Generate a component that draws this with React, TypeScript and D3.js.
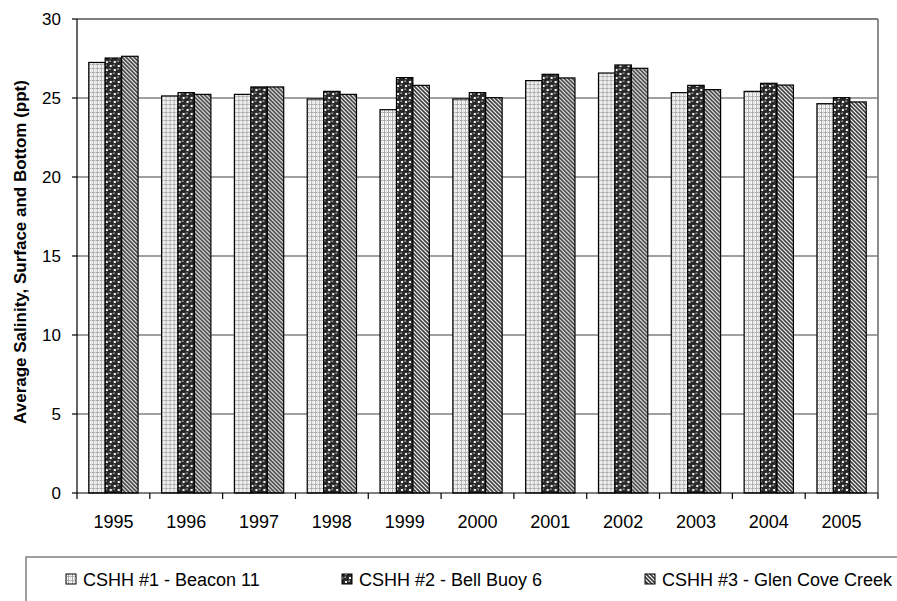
import React from "react";
import * as d3 from "d3";

const years = ["1995", "1996", "1997", "1998", "1999", "2000", "2001", "2002", "2003", "2004", "2005"];
const seriesNames = ["CSHH #1 - Beacon 11", "CSHH #2 - Bell Buoy 6", "CSHH #3 - Glen Cove Creek"];
const beacon11 = [27.25, 25.13, 25.23, 24.94, 24.26, 24.94, 26.1, 26.58, 25.34, 25.42, 24.64];
const bellBuoy6 = [27.53, 25.34, 25.7, 25.42, 26.29, 25.34, 26.5, 27.09, 25.8, 25.93, 25.02];
const glenCoveCreek = [27.64, 25.23, 25.7, 25.23, 25.8, 25.02, 26.27, 26.88, 25.53, 25.82, 24.75];
const yTicks = [0, 5, 10, 15, 20, 25, 30];
const yTitle = "Average Salinity, Surface and Bottom (ppt)";

const W = 897;
const H = 601;
const left = 77;
const right = 878;
const top = 19;
const bottom = 493;
const FONT = 'Arial, "Liberation Sans", sans-serif';

const ballCenters: [number, number][] = [];
[[2, 2], [6, 6]].forEach(([cx, cy]) => {
  [-8, 0, 8].forEach((dx) => [-8, 0, 8].forEach((dy) => ballCenters.push([cx + dx, cy + dy])));
});

export default function App() {
  const seriesValues = [beacon11, bellBuoy6, glenCoveCreek];
  const patternIds = ["pGrid", "pBalls", "pDiag"];

  const x0 = d3.scaleBand<string>().domain(years).range([left, right]).paddingInner(0.323).paddingOuter(0.1615);
  const x1 = d3.scaleBand<number>().domain([0, 1, 2]).range([0, x0.bandwidth()]).padding(0);
  const y = d3.scaleLinear().domain([0, 30]).range([bottom, top]);
  const step = x0.step();

  const legendX = [66, 342, 645];
  const legendY = 580;

  return (
    <svg width={W} height={H} style={{ position: "absolute", left: 0, top: 0, background: "#fff" }} fontFamily={FONT}>
      <defs>
        <pattern id="pGrid" width={4} height={4} patternUnits="userSpaceOnUse">
          <rect width={4} height={4} fill="#ffffff" />
          <rect x={0} y={0} width={1} height={4} fill="#a8a8a8" />
          <rect x={0} y={0} width={4} height={1} fill="#a8a8a8" />
          <rect x={2} y={0} width={1} height={4} fill="#dcdcdc" />
        </pattern>
        <pattern id="pBalls" width={8} height={8} patternUnits="userSpaceOnUse">
          <rect width={8} height={8} fill="#ffffff" />
          {ballCenters.map(([cx, cy], i) => (
            <circle key={"b" + i} cx={cx} cy={cy} r={2.7} fill="#2a2a2a" stroke="#000" strokeWidth={0.6} />
          ))}
          {ballCenters.map(([cx, cy], i) => (
            <circle key={"h" + i} cx={cx - 0.8} cy={cy - 0.8} r={0.9} fill="#a0a0a0" />
          ))}
        </pattern>
        <pattern id="pDiag" width={4} height={4} patternUnits="userSpaceOnUse">
          <rect width={4} height={4} fill="#ffffff" />
          <path d="M-1,-1 L5,5 M-1,3 L1,5 M3,-1 L5,1" stroke="#3a3a3a" strokeWidth={1.6} />
        </pattern>
      </defs>

      {/* gridlines */}
      {yTicks.filter((t) => t > 0 && t < 30).map((t) => (
        <line key={t} x1={left} x2={right} y1={y(t)} y2={y(t)} stroke="#808080" strokeWidth={1.3} />
      ))}
      <line x1={left} x2={right} y1={y(30)} y2={y(30)} stroke="#000" strokeWidth={1.2} />
      <line x1={right} x2={right} y1={y(30)} y2={bottom} stroke="#808080" strokeWidth={1.8} />

      {/* bars */}
      {years.map((yr, i) => (
        <g key={yr} transform={`translate(${x0(yr)},0)`}>
          {seriesValues.map((vals, s) => (
            <rect
              key={s}
              x={x1(s)}
              y={y(vals[i])}
              width={x1.bandwidth()}
              height={bottom - y(vals[i])}
              fill={`url(#${patternIds[s]})`}
              stroke="#000"
              strokeWidth={1.2}
            />
          ))}
        </g>
      ))}

      {/* y axis */}
      <line x1={left} x2={left} y1={top} y2={bottom} stroke="#000" strokeWidth={1.2} />
      {yTicks.map((t) => (
        <g key={t}>
          <line x1={left - 5} x2={left} y1={y(t)} y2={y(t)} stroke="#000" strokeWidth={1.2} />
          <text x={61} y={y(t)} dy="0.35em" textAnchor="end" fontSize={17} fill="#000">
            {t}
          </text>
        </g>
      ))}

      {/* x axis */}
      <line x1={left} x2={right} y1={bottom} y2={bottom} stroke="#000" strokeWidth={1.2} />
      {d3.range(years.length + 1).map((k) => (
        <line key={k} x1={left + k * step} x2={left + k * step} y1={bottom} y2={bottom + 6} stroke="#000" strokeWidth={1.2} />
      ))}
      {years.map((yr) => (
        <text key={yr} x={(x0(yr) as number) + x0.bandwidth() / 2} y={528} textAnchor="middle" fontSize={18} fill="#000">
          {yr}
        </text>
      ))}

      {/* y title */}
      <text
        transform={`translate(26,${(top + bottom) / 2 - 4}) rotate(-90)`}
        textAnchor="middle"
        fontSize={17}
        fontWeight="bold"
        fill="#000"
      >
        {yTitle}
      </text>

      {/* legend */}
      <rect x={26} y={557} width={900} height={80} fill="none" stroke="#808080" strokeWidth={1.5} />
      {seriesNames.map((name, s) => (
        <g key={name}>
          <rect x={legendX[s]} y={legendY - 6} width={10} height={10} fill={`url(#${patternIds[s]})`} stroke="#000" strokeWidth={1} />
          <text x={legendX[s] + 17} y={legendY} dy="0.35em" fontSize={18} fill="#000">
            {name}
          </text>
        </g>
      ))}
    </svg>
  );
}
